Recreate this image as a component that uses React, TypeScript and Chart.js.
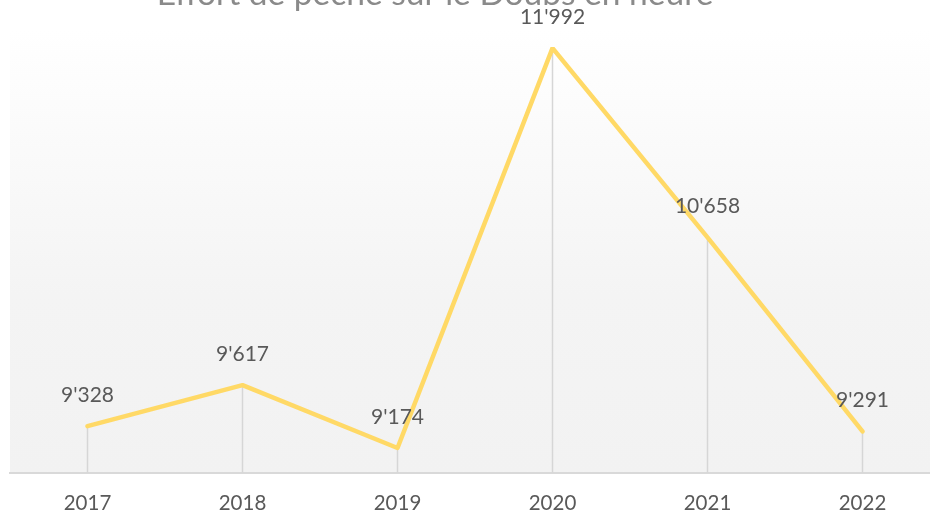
import React, { useEffect, useRef } from "react";
import { Chart, registerables } from "chart.js";

Chart.register(...registerables);

// ---- data ----
const years: string[] = ["2017", "2018", "2019", "2020", "2021", "2022"];
const hours: number[] = [9328, 9617, 9174, 11992, 10658, 9291];
const chartTitle = "Effort de pêche sur le Doubs en heure";
const yMin = 9000;
const yMax = 12000;

const fmt = (v: number) => String(v).replace(/\B(?=(\d{3})+(?!\d))/g, "'");

const FONT = "Lato, 'Open Sans', sans-serif";
const SHIFT = 25; // canvas is shifted up so the title is clipped like the reference

const decorPlugin = {
  id: "decor",
  beforeDraw(chart: any) {
    const { ctx, chartArea } = chart;
    const top = SHIFT;
    const g = ctx.createLinearGradient(0, SHIFT + 30, 0, chartArea.bottom);
    g.addColorStop(0, "#ffffff");
    g.addColorStop(0.6, "#f4f4f4");
    g.addColorStop(1, "#f2f2f2");
    ctx.save();
    ctx.fillStyle = g;
    ctx.fillRect(chartArea.left, top, chartArea.right - chartArea.left, chartArea.bottom - top);
    ctx.restore();
  },
  beforeDatasetsDraw(chart: any) {
    const { ctx, chartArea } = chart;
    const meta = chart.getDatasetMeta(0);
    ctx.save();
    ctx.strokeStyle = "#d6d6d6";
    ctx.lineWidth = 1.5;
    meta.data.forEach((pt: any) => {
      ctx.beginPath();
      ctx.moveTo(pt.x, pt.y);
      ctx.lineTo(pt.x, chartArea.bottom);
      ctx.stroke();
    });
    ctx.restore();
  },
  afterDatasetsDraw(chart: any) {
    const { ctx } = chart;
    const meta = chart.getDatasetMeta(0);
    const data = chart.data.datasets[0].data as number[];
    ctx.save();
    ctx.fillStyle = "#595959";
    ctx.font = `21px ${FONT}`;
    ctx.textAlign = "center";
    ctx.textBaseline = "middle";
    meta.data.forEach((pt: any, i: number) => {
      ctx.fillText(fmt(data[i]), pt.x, pt.y - 31);
    });
    ctx.restore();
  },
  afterDraw(chart: any) {
    const { ctx } = chart;
    ctx.save();
    ctx.fillStyle = "#8a8a8a";
    ctx.font = `33.5px ${FONT}`;
    ctx.textAlign = "center";
    ctx.textBaseline = "alphabetic";
    ctx.fillText(chartTitle, 435, SHIFT + 5);
    ctx.restore();
  },
};

export default function App() {
  const ref = useRef<HTMLCanvasElement | null>(null);

  useEffect(() => {
    if (!ref.current) return;
    const chart = new Chart(ref.current, {
      type: "line",
      data: {
        labels: years,
        datasets: [
          {
            data: hours,
            borderColor: "#ffd966",
            borderWidth: 4.5,
            pointRadius: 0,
            pointHoverRadius: 0,
            tension: 0,
            fill: false,
            borderJoinStyle: "round",
            borderCapStyle: "round",
          },
        ],
      },
      options: {
        responsive: false,
        devicePixelRatio: 1,
        animation: false,
        layout: { padding: { left: 10, right: 10, top: 72, bottom: 0 } },
        plugins: {
          legend: { display: false },
          tooltip: { enabled: false },
          title: { display: false },
        },
        scales: {
          x: {
            type: "category",
            offset: true,
            grid: { display: false, drawTicks: false },
            border: { display: true, color: "#d9d9d9", width: 2 },
            ticks: {
              color: "#595959",
              font: { family: FONT, size: 20.5 },
              padding: 18,
              maxRotation: 0,
              autoSkip: false,
            },
            afterFit: (s: any) => {
              s.height = 41.3;
            },
          },
          y: {
            display: false,
            min: yMin,
            max: yMax,
          },
        },
      },
      plugins: [decorPlugin],
    });
    return () => chart.destroy();
  }, []);

  return (
    <div
      style={{
        position: "fixed",
        left: 0,
        top: 0,
        width: 930,
        height: 514,
        overflow: "hidden",
        background: "#ffffff",
      }}
    >
      <canvas
        ref={ref}
        width={950}
        height={514 + SHIFT}
        style={{ position: "absolute", left: 0, top: -SHIFT, width: 950, height: 514 + SHIFT }}
      />
    </div>
  );
}
